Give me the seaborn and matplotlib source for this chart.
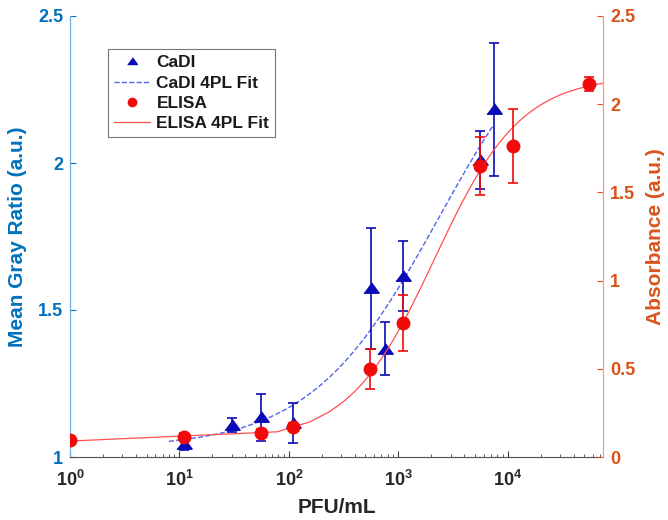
import numpy as np
import seaborn as sns
import matplotlib.pyplot as plt
from matplotlib.lines import Line2D
from matplotlib.ticker import FixedLocator, FixedFormatter, LogLocator, NullFormatter

# CaDI (left axis, mean gray ratio)
cadi_x = [11, 30, 55, 108, 560, 750, 1100, 5560, 7400]
cadi_y = [1.044, 1.108, 1.135, 1.115, 1.574, 1.368, 1.615, 2.01, 2.182]
cadi_err = [0.02, 0.024, 0.08, 0.067, 0.206, 0.09, 0.12, 0.098, 0.226]

# ELISA (right axis, absorbance)
elisa_x = [1, 11, 55, 108, 550, 1100, 5560, 11200, 55000]
elisa_y = [0.095, 0.114, 0.136, 0.17, 0.5, 0.761, 1.648, 1.761, 2.114]
elisa_err = [0.01, 0.02, 0.02, 0.02, 0.114, 0.16, 0.165, 0.21, 0.04]

# 4PL parameters: bottom, top, ec50, hill
cadi_4pl = (1.03, 2.6, 2350, 0.74)
elisa_4pl = (0.09, 2.16, 2145, 1.1)

x_ticks = [1, 10, 100, 1000, 10000]
x_ticklabels = [r"$\mathbf{10^{0}}$", r"$\mathbf{10^{1}}$", r"$\mathbf{10^{2}}$",
                r"$\mathbf{10^{3}}$", r"$\mathbf{10^{4}}$"]
left_ticks = [1, 1.5, 2, 2.5]
right_ticks = [0, 0.5, 1, 1.5, 2, 2.5]


def four_pl(x, p):
    a, d, c, b = p
    return d + (a - d) / (1 + (x / c) ** b)


sns.set_theme(style="ticks")
plt.rcParams["font.family"] = ["Liberation Sans", "DejaVu Sans"]
plt.rcParams["font.weight"] = "bold"
plt.rcParams["mathtext.fontset"] = "custom"
plt.rcParams["mathtext.bf"] = "Liberation Sans:bold"
plt.rcParams["mathtext.rm"] = "Liberation Sans:bold"

left_c = "#0072BD"
right_c = "#D95319"
blue = "#0A0AB8"
red = "#F00A0A"

fig = plt.figure(figsize=(6.68, 5.2), dpi=100)
ax = fig.add_axes([70 / 668, 1 - 457 / 520, 533 / 668, 441 / 520])
ax2 = ax.twinx()

tri = [(-1, -0.62), (1, -0.62), (0, 0.75)]

# fits
gx1 = np.linspace(8, 7400, 1000)
sns.lineplot(x=gx1, y=four_pl(gx1, cadi_4pl), ax=ax, color="#5064F0",
             linestyle="--", linewidth=1.0, zorder=2)
gx2 = np.linspace(1, 74000, 960)
sns.lineplot(x=gx2, y=four_pl(gx2, elisa_4pl), ax=ax2, color="#FF5050",
             linewidth=0.9, zorder=2)

ax.errorbar(cadi_x, cadi_y, yerr=cadi_err, fmt="none", ecolor=blue,
            elinewidth=1.2, capsize=3.3, capthick=1.2, zorder=3)
ax.plot(cadi_x, cadi_y, linestyle="none", marker=tri, markersize=11,
        color=blue, zorder=4)
ax2.errorbar(elisa_x, elisa_y, yerr=elisa_err, fmt="none", ecolor=red,
             elinewidth=1.2, capsize=3.3, capthick=1.2, zorder=3)
ax2.plot(elisa_x, elisa_y, linestyle="none", marker="o", markersize=9,
         color=red, zorder=4)

ax.set_xscale("log")
ax.set_xlim(1, 74000)
ax.set_ylim(1, 2.5)
ax2.set_ylim(0, 2.5)

ax.xaxis.set_major_locator(FixedLocator(x_ticks))
ax.xaxis.set_major_formatter(FixedFormatter(x_ticklabels))
ax.xaxis.set_minor_locator(LogLocator(base=10, subs=np.arange(2, 10), numticks=20))
ax.xaxis.set_minor_formatter(NullFormatter())
ax.set_yticks(left_ticks)
ax.set_yticklabels(["%g" % t for t in left_ticks])
ax2.set_yticks(right_ticks)
ax2.set_yticklabels(["%g" % t for t in right_ticks])

ax.tick_params(axis="x", which="major", direction="in", length=4, width=0.8,
               color="#404040", labelsize=13, labelcolor="#262626", pad=9)
ax.tick_params(axis="x", which="minor", direction="in", length=2.2, width=0.6,
               color="#404040")
ax.tick_params(axis="y", direction="in", length=4, width=0.8, color=left_c,
               labelsize=13, labelcolor=left_c, pad=5)
ax2.tick_params(axis="y", direction="in", length=4, width=0.8, color=right_c,
                labelsize=13, labelcolor=right_c, pad=5)

for s in ["top", "right"]:
    ax.spines[s].set_visible(False)
for s in ["top", "left", "bottom"]:
    ax2.spines[s].set_visible(False)
ax.spines["left"].set_color("#6FB0E0")
ax.spines["left"].set_linewidth(0.9)
ax.spines["bottom"].set_color("#505050")
ax.spines["bottom"].set_linewidth(0.8)
ax2.spines["right"].set_color("#F0A07E")
ax2.spines["right"].set_linewidth(0.9)

ax.set_xlabel("PFU/mL", fontsize=15, fontweight="bold", color="#262626", labelpad=6)
ax.set_ylabel("Mean Gray Ratio (a.u.)", fontsize=15, fontweight="bold",
              color=left_c, labelpad=8)
ax2.set_ylabel("Absorbance (a.u.)", fontsize=15, fontweight="bold",
               color=right_c, labelpad=8)

handles = [
    Line2D([], [], linestyle="none", marker=tri, markersize=7, color=blue),
    Line2D([], [], linestyle="--", linewidth=1.0, color="#5064F0"),
    Line2D([], [], linestyle="none", marker="o", markersize=6, color=red),
    Line2D([], [], linestyle="-", linewidth=0.9, color="#FF5050"),
]
labels = ["CaDI", "CaDI 4PL Fit", "ELISA", "ELISA 4PL Fit"]
leg = ax2.legend(handles, labels, loc="upper left", bbox_to_anchor=(0.071, 0.925),
                 borderaxespad=0, frameon=True, fancybox=False,
                 handlelength=2.1, handletextpad=0.35, labelspacing=0.3,
                 borderpad=0.35, edgecolor="#555555",
                 prop={"weight": "bold", "size": 12.5})
leg.get_frame().set_linewidth(0.8)
for t in leg.get_texts():
    t.set_color("#1a1a1a")

fig.savefig("out.png", dpi=100)
